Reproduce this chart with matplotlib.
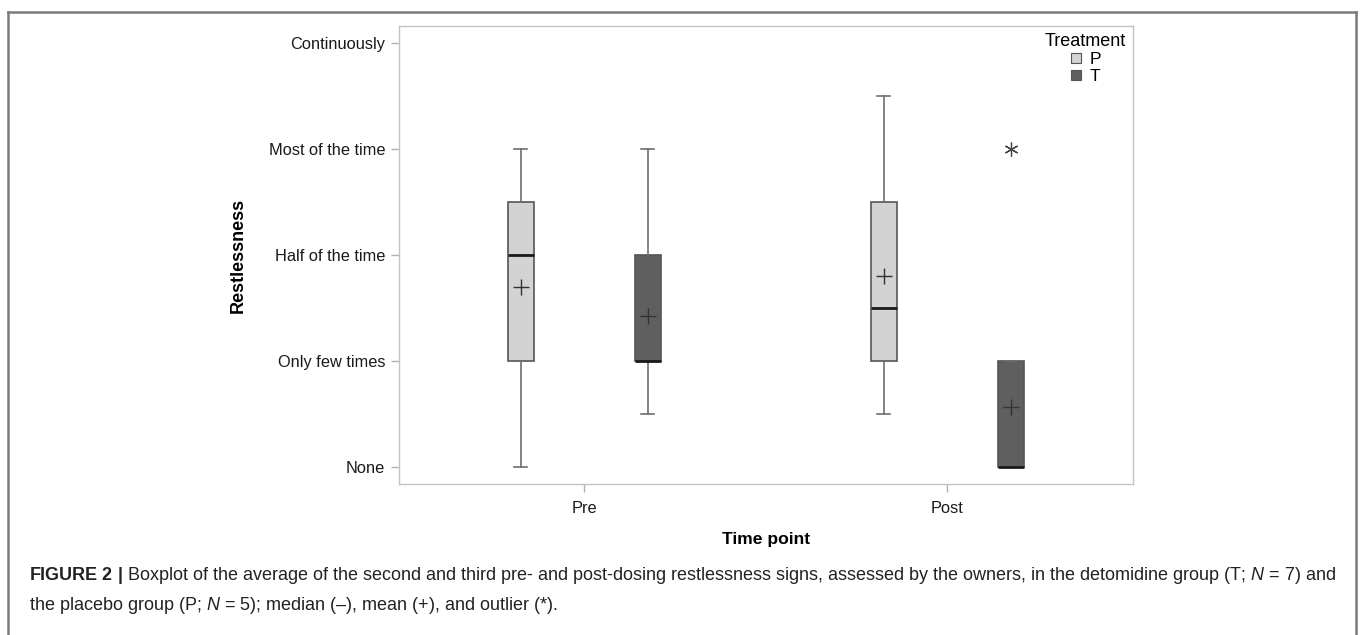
import matplotlib
matplotlib.use("Agg")
import matplotlib.pyplot as plt
from matplotlib.lines import Line2D

plt.rcParams['font.family'] = ['Liberation Sans', 'DejaVu Sans']
plt.rcParams['mathtext.fontset'] = 'custom'
plt.rcParams['mathtext.rm'] = 'Liberation Sans'
plt.rcParams['mathtext.it'] = 'Liberation Sans:italic'
plt.rcParams['mathtext.bf'] = 'Liberation Sans:bold'

# ---- data ----
time_points = ["Pre", "Post"]
treatments = ["P", "T"]
level_labels = ["None", "Only few times", "Half of the time", "Most of the time", "Continuously"]
level_values = [0, 1, 2, 3, 4]

# order: Pre-P, Pre-T, Post-P, Post-T
box_group = [0, 0, 1, 1]
box_treat = ["P", "T", "P", "T"]
whis_low = [0.0, 0.5, 0.5, 0.0]
q1 = [1.0, 1.0, 1.0, 0.0]
median = [2.0, 1.0, 1.5, 0.0]
q3 = [2.5, 2.0, 2.5, 1.0]
whis_high = [3.0, 3.0, 3.5, 1.0]
means = [1.70, 1.43, 1.80, 0.57]
outliers = [[], [], [], [3.0]]

colors = {"P": "#d3d3d3", "T": "#5f5f5f"}
offset = {"P": -0.175, "T": 0.175}

fig = plt.figure(figsize=(13.6, 6.35), dpi=100)
ax = fig.add_axes([399/1360, 1-484/635, (1133-399)/1360, (484-26)/635])

stats = []
positions = []
for i in range(len(q1)):
    stats.append(dict(med=median[i], q1=q1[i], q3=q3[i], whislo=whis_low[i],
                      whishi=whis_high[i], mean=means[i], fliers=outliers[i]))
    positions.append(box_group[i] + offset[box_treat[i]])

bp = ax.bxp(stats, positions=positions, widths=0.072, patch_artist=True,
            showmeans=True, showfliers=True,
            boxprops=dict(edgecolor="#555555", linewidth=1.2),
            whiskerprops=dict(color="#6e6e6e", linewidth=1.2),
            capprops=dict(color="#6e6e6e", linewidth=1.2),
            medianprops=dict(color="#1a1a1a", linewidth=2.0),
            meanprops=dict(marker="+", markeredgecolor="#333333", markersize=11,
                           markeredgewidth=1.0, linestyle="none"),
            flierprops=dict(marker=(6, 2, 0), markeredgecolor="#444444",
                            markersize=10, markeredgewidth=0.9))
for patch, t in zip(bp["boxes"], box_treat):
    patch.set_facecolor(colors[t])

ax.set_xlim(-0.51, 1.512)
ax.set_ylim(-0.16, 4.165)
ax.set_xticks(range(len(time_points)))
ax.set_xticklabels(time_points)
ax.set_yticks(level_values)
ax.set_yticklabels(level_labels)
for s in ax.spines.values():
    s.set_color("#c4c4c4")
    s.set_linewidth(1.0)
ax.tick_params(axis="both", colors="#b0b0b0", labelcolor="#1a1a1a",
               labelsize=11.8, length=5.5, width=1.0, pad=4.5)
ax.tick_params(axis="x", pad=7)
ax.set_xlabel("Time point", fontsize=12.6, fontweight="bold", labelpad=11)
ax.set_ylabel("Restlessness", fontsize=13, fontweight="bold", labelpad=16)

handles = [Line2D([], [], marker="s", linestyle="none", markersize=6.5,
                  markerfacecolor=colors[t], markeredgecolor="#555555",
                  markeredgewidth=0.8) for t in treatments]
leg = ax.legend(handles, treatments, title="Treatment", loc="upper right",
                bbox_to_anchor=(1.0, 1.0), frameon=False, fontsize=12.5,
                title_fontsize=13, handlelength=0.8, handletextpad=0.4,
                labelspacing=0.1, borderaxespad=0.25, borderpad=0.15)

# outer figure border (left, top, right)
bc = "#7a7a7a"
fig.add_artist(Line2D([8/1360, 8/1360], [0, 1-12/635], color=bc, lw=1.8))
fig.add_artist(Line2D([8/1360, 1356/1360], [1-12/635, 1-12/635], color=bc, lw=1.8))
fig.add_artist(Line2D([1356/1360, 1356/1360], [0, 1-12/635], color=bc, lw=1.8))

line1 = (r"$\mathbf{FIGURE\ 2\ |}$ Boxplot of the average of the second and third pre- and "
         r"post-dosing restlessness signs, assessed by the owners, in the detomidine group "
         r"(T; $N$ = 7) and")
line2 = r"the placebo group (P; $N$ = 5); median (–), mean (+), and outlier (*)."
fig.text(29/1360, 1-576/635, line1, fontsize=13, ha="left", va="center", color="#222222")
fig.text(29/1360, 1-605/635, line2, fontsize=13, ha="left", va="center", color="#222222")

fig.savefig("out.png", dpi=100)
